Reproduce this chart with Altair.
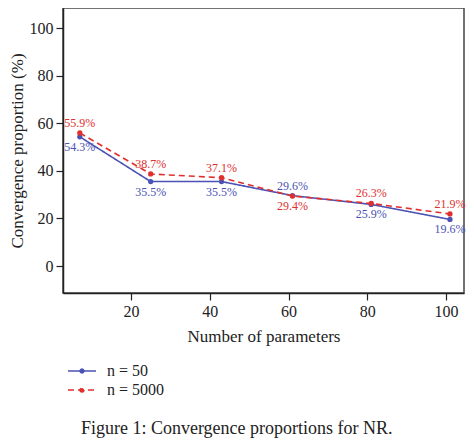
import pandas as pd
import altair as alt

# Values
n_params = [7, 25, 43, 61, 81, 101]
conv_n50 = [54.3, 35.5, 35.5, 29.6, 25.9, 19.6]
conv_n5000 = [55.9, 38.7, 37.1, 29.4, 26.3, 21.9]
series_names = ["n = 50", "n = 5000"]
series_colors = ["#4a52b4", "#e0302e"]

FONT = "Liberation Serif"
LEGEND_SYMBOL = "M-2,0L2,0M-0.28,0a0.28,0.28 0 1,0 0.56,0a0.28,0.28 0 1,0 -0.56,0"


def build_frame() -> pd.DataFrame:
    df = pd.DataFrame({
        "params": n_params * 2,
        "value": conv_n50 + conv_n5000,
        "series": [series_names[0]] * len(n_params) + [series_names[1]] * len(n_params),
    })
    df["label"] = df["value"].map(lambda v: f"{v:.1f}%")
    # the higher of the two series gets its label above the point
    top = df.groupby("params")["value"].transform("max")
    df["above"] = df["value"] == top
    return df


def series_legend() -> alt.Legend:
    return alt.Legend(title=None, orient="none", legendX=11, legendY=355,
                      symbolType=LEGEND_SYMBOL, symbolSize=196, symbolStrokeWidth=1.5,
                      labelFont=FONT, labelFontSize=16, labelColor="#222",
                      labelOffset=17, rowPadding=3)


def main():
    df = build_frame()

    x = alt.X("params:Q", title="Number of parameters",
              scale=alt.Scale(domain=[2.73, 104.57], nice=False, zero=False),
              axis=alt.Axis(values=[20, 40, 60, 80, 100], grid=False,
                            tickSize=7, labelPadding=3, titlePadding=9))
    y = alt.Y("value:Q", title="Convergence proportion (%)",
              scale=alt.Scale(domain=[-11.3, 108.4], nice=False, zero=False),
              axis=alt.Axis(values=[0, 20, 40, 60, 80, 100], grid=False,
                            tickSize=7, labelPadding=3, titlePadding=3))
    color_scale = alt.Scale(domain=series_names, range=series_colors)

    lines = alt.Chart(df).mark_line(strokeWidth=1.6).encode(
        x=x, y=y,
        color=alt.Color("series:N", scale=color_scale, legend=series_legend()),
        strokeDash=alt.StrokeDash("series:N",
                                  scale=alt.Scale(domain=series_names, range=[[1, 0], [6, 4]]),
                                  legend=series_legend()))
    dots = alt.Chart(df).mark_circle(size=28, opacity=1).encode(
        x="params:Q", y="value:Q",
        color=alt.Color("series:N", scale=color_scale, legend=None))

    above = alt.Chart(df).transform_filter("datum.above").mark_text(
        font=FONT, fontSize=12, dy=-10).encode(
        x="params:Q", y="value:Q", text="label:N",
        color=alt.Color("series:N", scale=color_scale, legend=None))
    below = alt.Chart(df).transform_filter("!datum.above").mark_text(
        font=FONT, fontSize=12, dy=10).encode(
        x="params:Q", y="value:Q", text="label:N",
        color=alt.Color("series:N", scale=color_scale, legend=None))

    chart = (
        alt.layer(lines, dots, above, below)
        .properties(
            width=401, height=285,
            autosize=alt.AutoSizeParams(type="none"),
            padding={"left": 55, "top": 0, "right": 2, "bottom": 145},
            title=alt.Title("Figure 1: Convergence proportions for NR.", orient="bottom",
                            anchor="middle", frame="bounds", font=FONT, fontSize=18,
                            fontWeight="normal", color="#222", offset=22),
        )
        .configure_view(stroke="#444", strokeWidth=1.5)
        .configure_axis(domainColor="#222", domainWidth=1.5, tickColor="#222", tickWidth=1.2,
                        labelFont=FONT, labelFontSize=16, labelColor="#222",
                        titleFont=FONT, titleFontSize=17, titleFontWeight="normal", titleColor="#222")
    )

    chart.save("out.html", embed_options={"renderer": "svg", "actions": False})


if __name__ == "__main__":
    main()
